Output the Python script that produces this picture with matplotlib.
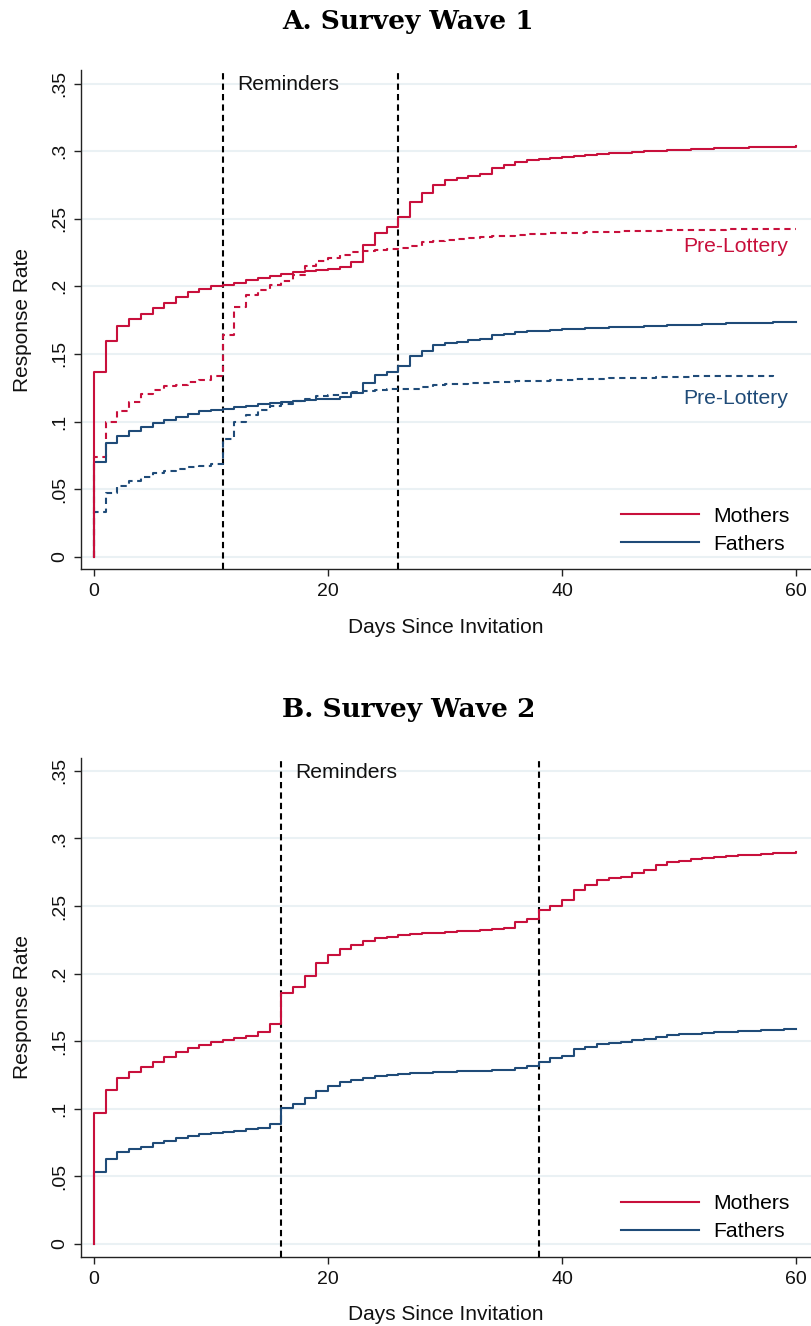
import matplotlib
matplotlib.use("Agg")
import matplotlib.pyplot as plt
from matplotlib.lines import Line2D

# ---------------- data ----------------
days = list(range(0, 61))
days_pre_fathers_w1 = list(range(0, 59))

w1_mothers = [0.1365, 0.1598, 0.1704, 0.1758, 0.1795, 0.1837, 0.1877, 0.1919, 0.1958, 0.1983, 0.2000,
              0.2007, 0.2025, 0.2044, 0.2059, 0.2074, 0.2091, 0.2106, 0.2116, 0.2123, 0.2131,
              0.2143, 0.2180, 0.2304, 0.2398, 0.2437, 0.2511, 0.2622, 0.2691, 0.2751, 0.2783,
              0.2800, 0.2815, 0.2830, 0.2877, 0.2899, 0.2919, 0.2933, 0.2943, 0.2951, 0.2958,
              0.2965, 0.2972, 0.2978, 0.2983, 0.2988, 0.2993, 0.2998, 0.3003, 0.3007, 0.3011,
              0.3014, 0.3017, 0.3020, 0.3022, 0.3025, 0.3027, 0.3029, 0.3031, 0.3033, 0.3035]

w1_mothers_pre = [0.0741, 0.0995, 0.1074, 0.1143, 0.1202, 0.1235, 0.1259, 0.1272, 0.1289, 0.1309, 0.1333,
                  0.1637, 0.1844, 0.1936, 0.1975, 0.2010, 0.2037, 0.2086, 0.2148, 0.2190, 0.2210,
                  0.2232, 0.2252, 0.2259, 0.2269, 0.2277, 0.2284, 0.2296, 0.2326, 0.2338, 0.2346,
                  0.2353, 0.2358, 0.2365, 0.2370, 0.2375, 0.2380, 0.2385, 0.2390, 0.2393, 0.2395,
                  0.2398, 0.2400, 0.2402, 0.2405, 0.2407, 0.2409, 0.2410, 0.2412, 0.2414, 0.2415,
                  0.2416, 0.2417, 0.2420, 0.2421, 0.2422, 0.2423, 0.2425, 0.2426, 0.2427, 0.2427]

w1_fathers = [0.0699, 0.0840, 0.0896, 0.0933, 0.0963, 0.0988, 0.1012, 0.1037, 0.1057, 0.1074, 0.1086,
              0.1096, 0.1106, 0.1116, 0.1128, 0.1138, 0.1146, 0.1153, 0.1158, 0.1163, 0.1170,
              0.1178, 0.1210, 0.1284, 0.1346, 0.1363, 0.1412, 0.1481, 0.1523, 0.1563, 0.1580,
              0.1590, 0.1600, 0.1610, 0.1637, 0.1649, 0.1659, 0.1667, 0.1672, 0.1677, 0.1681,
              0.1685, 0.1689, 0.1693, 0.1696, 0.1699, 0.1702, 0.1705, 0.1708, 0.1711, 0.1714,
              0.1717, 0.1720, 0.1723, 0.1725, 0.1728, 0.1730, 0.1732, 0.1734, 0.1736, 0.1738]

w1_fathers_pre = [0.0328, 0.0469, 0.0526, 0.0563, 0.0593, 0.0617, 0.0635, 0.0649, 0.0662, 0.0674, 0.0686,
                  0.0872, 0.1000, 0.1049, 0.1086, 0.1111, 0.1128, 0.1148, 0.1165, 0.1185, 0.1198,
                  0.1210, 0.1217, 0.1225, 0.1232, 0.1237, 0.1240, 0.1244, 0.1254, 0.1272, 0.1275,
                  0.1278, 0.1282, 0.1286, 0.1290, 0.1293, 0.1297, 0.1300, 0.1303, 0.1306, 0.1309,
                  0.1311, 0.1314, 0.1316, 0.1319, 0.1321, 0.1323, 0.1325, 0.1327, 0.1329, 0.1331,
                  0.1333, 0.1335, 0.1336, 0.1337, 0.1338, 0.1339, 0.1340, 0.1341]

w2_mothers = [0.0972, 0.1140, 0.1226, 0.1270, 0.1307, 0.1349, 0.1386, 0.1423, 0.1453, 0.1473, 0.1492,
              0.1507, 0.1522, 0.1537, 0.1571, 0.1626, 0.1853, 0.1904, 0.1986, 0.2077, 0.2139,
              0.2183, 0.2213, 0.2242, 0.2262, 0.2274, 0.2285, 0.2292, 0.2297, 0.2302, 0.2307,
              0.2312, 0.2317, 0.2322, 0.2327, 0.2337, 0.2385, 0.2405, 0.2467, 0.2499, 0.2541,
              0.2615, 0.2656, 0.2689, 0.2706, 0.2718, 0.2743, 0.2763, 0.2800, 0.2822, 0.2834,
              0.2847, 0.2855, 0.2862, 0.2868, 0.2874, 0.2880, 0.2885, 0.2890, 0.2894, 0.2898]

w2_fathers = [0.0535, 0.0629, 0.0678, 0.0701, 0.0720, 0.0745, 0.0762, 0.0782, 0.0802, 0.0814, 0.0824,
              0.0831, 0.0839, 0.0849, 0.0861, 0.0886, 0.1009, 0.1036, 0.1083, 0.1132, 0.1172,
              0.1196, 0.1214, 0.1231, 0.1243, 0.1251, 0.1258, 0.1263, 0.1268, 0.1270, 0.1273,
              0.1276, 0.1279, 0.1282, 0.1285, 0.1288, 0.1305, 0.1318, 0.1349, 0.1374, 0.1394,
              0.1443, 0.1460, 0.1480, 0.1490, 0.1497, 0.1510, 0.1517, 0.1534, 0.1547, 0.1552,
              0.1557, 0.1562, 0.1566, 0.1570, 0.1574, 0.1578, 0.1581, 0.1584, 0.1587, 0.1589]

w1_reminders = [11, 26]
w2_reminders = [16, 38]

y_ticks = [0, 0.05, 0.1, 0.15, 0.2, 0.25, 0.3, 0.35]
y_ticklabels = ["0", ".05", ".1", ".15", ".2", ".25", ".3", ".35"]
x_ticks = [0, 20, 40, 60]
x_ticklabels = ["0", "20", "40", "60"]

titles = ["A. Survey Wave 1", "B. Survey Wave 2"]

# ---------------- style ----------------
RED = "#C8103C"
BLUE = "#1F4B78"
GRID = "#EAF1F4"
SANS = "Liberation Sans"
SERIF = "DejaVu Serif"
FS_TICK = 14
FS_LAB = 15
FS_TXT = 15.2

plt.rcParams["font.family"] = [SANS, "DejaVu Sans"]

W, H = 812, 1326
fig = plt.figure(figsize=(W / 100, H / 100), dpi=100)
fig.patch.set_facecolor("white")


def step_series(ax, x, y, color, ls="-"):
    xs = [x[0]] + list(x)
    ys = [0.0] + list(y)
    ax.step(xs, ys, where="post", color=color, lw=1.5, ls=ls,
            dashes=(3.0, 2.2) if ls == "--" else (None, None), zorder=3)


def style_axes(ax, ylim):
    ax.set_xlim(-1.14, 61.28)
    ax.set_ylim(*ylim)
    for s in ["top", "right"]:
        ax.spines[s].set_visible(False)
    for s in ["left", "bottom"]:
        ax.spines[s].set_color("#222222")
        ax.spines[s].set_linewidth(1.0)
    ax.set_yticks(y_ticks)
    ax.set_yticklabels(y_ticklabels, rotation=90, va="center")
    ax.set_xticks(x_ticks)
    ax.set_xticklabels(x_ticklabels)
    ax.tick_params(axis="both", direction="out", length=5, width=1.0,
                   color="#222222", labelsize=FS_TICK, labelcolor="#111111")
    ax.tick_params(axis="y", pad=4)
    ax.tick_params(axis="x", pad=5)
    ax.grid(axis="y", color=GRID, lw=1.5, zorder=0)
    ax.set_axisbelow(True)
    ax.set_ylabel("Response Rate", fontsize=FS_LAB, color="#111111")
    ax.yaxis.set_label_coords(-0.08, 0.5)
    ax.yaxis.label.set_va("center")
    ax.set_xlabel("Days Since Invitation", fontsize=FS_LAB, color="#111111")
    ax.xaxis.set_label_coords(0.5, -0.1277)
    ax.xaxis.label.set_va("baseline")


def add_legend(ax):
    handles = [Line2D([], [], color=RED, lw=1.5), Line2D([], [], color=BLUE, lw=1.5)]
    ax.legend(handles, ["Mothers", "Fathers"], loc="lower right",
              bbox_to_anchor=(0.971, 0.031), frameon=False, fontsize=FS_TXT,
              handlelength=3.7, handletextpad=0.67, labelspacing=0.42,
              borderpad=0.0, borderaxespad=0.0)


# ---------------- panel A ----------------
axA = fig.add_axes([80.7 / W, (H - 569) / H, (811 - 80.7) / W, (569 - 70) / H])
style_axes(axA, (-0.0091, 0.360))
for d in w1_reminders:
    axA.axvline(d, color="black", lw=1.5, ls=(0, (3.0, 2.0)), zorder=2)
step_series(axA, days_pre_fathers_w1, w1_fathers_pre, BLUE, "--")
step_series(axA, days, w1_mothers_pre, RED, "--")
step_series(axA, days, w1_fathers, BLUE)
step_series(axA, days, w1_mothers, RED)
axA.text(12.2, 0.349, "Reminders", ha="left", va="center", fontsize=FS_TXT, color="#111111")
axA.text(59.3, 0.2298, "Pre-Lottery", ha="right", va="center", fontsize=FS_TXT, color=RED)
axA.text(59.3, 0.1172, "Pre-Lottery", ha="right", va="center", fontsize=FS_TXT, color=BLUE)
add_legend(axA)

# ---------------- panel B ----------------
axB = fig.add_axes([80.7 / W, (H - 1256.7) / H, (811 - 80.7) / W, (1256.7 - 758) / H])
style_axes(axB, (-0.0094, 0.3595))
for d in w2_reminders:
    axB.axvline(d, color="black", lw=1.5, ls=(0, (3.0, 2.0)), zorder=2)
step_series(axB, days, w2_fathers, BLUE)
step_series(axB, days, w2_mothers, RED)
axB.text(17.2, 0.349, "Reminders", ha="left", va="center", fontsize=FS_TXT, color="#111111")
add_legend(axB)

# ---------------- titles ----------------
fig.text(408.5 / W, 1 - 29.3 / H, titles[0], ha="center", va="baseline",
         fontsize=19, fontweight="bold", family=[SERIF, "DejaVu Sans"])
fig.text(408.5 / W, 1 - 716.7 / H, titles[1], ha="center", va="baseline",
         fontsize=19, fontweight="bold", family=[SERIF, "DejaVu Sans"])

fig.savefig("out.png", dpi=100, facecolor="white")
